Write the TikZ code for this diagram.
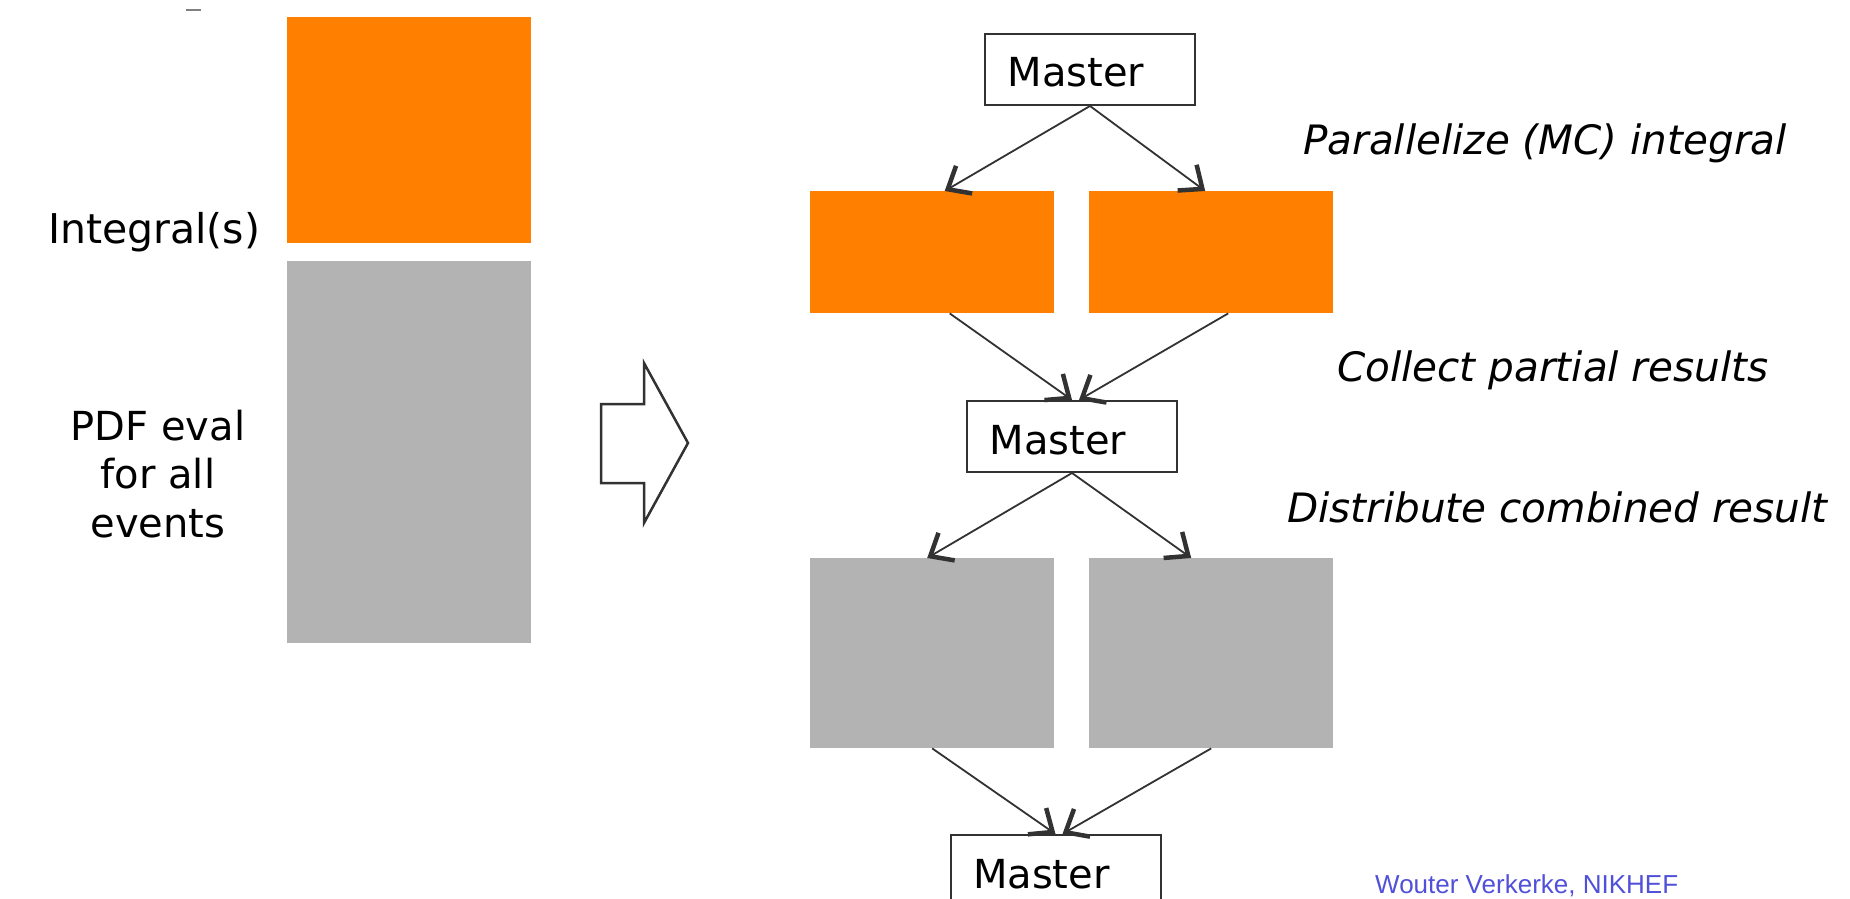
\documentclass[tikz,border=0pt]{standalone}
\usepackage{fontspec}
\setmainfont{DejaVu Sans}
\newfontfamily\creditfont{Liberation Sans}
\usetikzlibrary{arrows.meta,calc}

\definecolor{calcorange}{RGB}{255,127,0}
\definecolor{eventgray}{RGB}{179,179,179}
\definecolor{linegray}{RGB}{50,50,50}
\definecolor{creditblue}{RGB}{80,80,218}

\begin{document}
\begin{tikzpicture}[x=1pt,y=-1pt,
  block/.style={draw=none, inner sep=0pt, anchor=north west},
  orangeblock/.style={block, fill=calcorange},
  grayblock/.style={block, fill=eventgray},
  bigtext/.style={inner sep=0pt, font=\fontsize{40}{48.5}\selectfont},
  masterbox/.style={draw=linegray, line width=2pt, anchor=north west,
    minimum width=210pt, minimum height=71pt, text width=165pt,
    inner xsep=22.5pt, inner ysep=0pt, align=left,
    text height=35pt, text depth=0pt,
    font=\fontsize{40}{48}\selectfont},
  flow/.style={draw=linegray, line width=1.8pt,
    -{Straight Barb[length=19pt,width=32pt,line width=4.5pt]}},
  steplabel/.style={inner sep=0pt, anchor=base west,
    font=\fontsize{40.5}{48}\selectfont\itshape}
]
\useasboundingbox (0,0) rectangle (1850,899);
\fill[white] (0,0) rectangle (1850,899);
\clip (0,0) rectangle (1850,899);

% small mark at the top edge
\draw[gray, line width=2pt] (186,10) -- (201,10);

% serial evaluation: integral on top of the per-event PDF evaluation
\node[orangeblock, minimum width=244pt, minimum height=226pt] (intL) at (287,17) {};
\node[grayblock, minimum width=244pt, minimum height=382pt] (pdfL) at (287,261) {};
\node[bigtext, font=\fontsize{41}{48}\selectfont, anchor=base west] (intlab) at (48,243) {Integral(s)};
\node[bigtext, align=center, anchor=base] (pdflab) at (158,537) {PDF eval\\for all\\events};

% block arrow pointing to the parallel scheme
\draw[linegray, line width=2.5pt, line join=miter]
  (601,404) -- (644,404) -- (644,363) -- (688,443) -- (644,523)
  -- (644,483) -- (601,483) -- cycle;

% parallel scheme
\node[masterbox] (m1) at (984,33) {Master};
\node[orangeblock, minimum width=244pt, minimum height=122pt] (o1) at (810,191) {};
\node[orangeblock, minimum width=244pt, minimum height=122pt] (o2) at (1089,191) {};
\node[masterbox] (m2) at (966,400) {Master};
\node[grayblock, minimum width=244pt, minimum height=190pt] (g1) at (810,558) {};
\node[grayblock, minimum width=244pt, minimum height=190pt] (g2) at (1089,558) {};
\node[masterbox] (m3) at (949.5,834) {Master};

\draw[flow] (m1.south) -- ([xshift=12.5pt]o1.north);
\draw[flow] (m1.south) -- ([xshift=-6pt]o2.north);
\draw[flow] ([xshift=17.5pt]o1.south) -- (m2.north);
\draw[flow] ([xshift=17pt]o2.south) -- ([xshift=7pt]m2.north);
\draw[flow] (m2.south) -- ([xshift=-5pt]g1.north);
\draw[flow] (m2.south) -- ([xshift=-20pt]g2.north);
\draw[flow] (g1.south) -- (m3.north);
\draw[flow] (g2.south) -- ([xshift=7pt]m3.north);

% step descriptions
\node[steplabel] (s1) at (1303,154) {Parallelize (MC) integral};
\node[steplabel] (s2) at (1337,381) {Collect partial results};
\node[steplabel] (s3) at (1287,522) {Distribute combined result};

% credit line
\node[inner sep=0pt, anchor=base west, text=creditblue,
  font=\creditfont\fontsize{26}{30}\selectfont] (credit) at (1375,893)
  {Wouter Verkerke, NIKHEF};
\end{tikzpicture}
\end{document}
